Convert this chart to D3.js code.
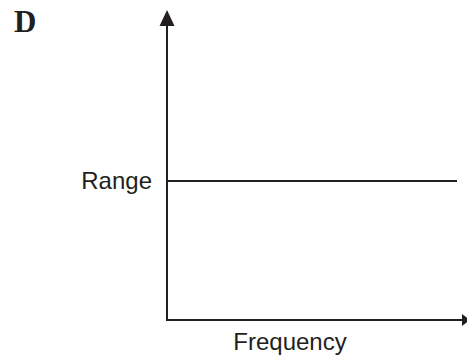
<!DOCTYPE html>
<html>
<head>
<meta charset="utf-8">
<script src="https://cdn.jsdelivr.net/npm/d3@7"></script>
<style>
  body { margin: 0; background: #fff; }
  svg { display: block; }
</style>
</head>
<body>
<div id="chart"></div>
<script>
// panel letter and axis titles
const panelLabel = "D"
const xTitle = "Frequency"
const yTitle = "Range"

// the single series: range stays constant over frequency
const frequency = [0, 1]
const rangeValues = [0.5, 0.5]

const W = 467, H = 358
const ink = "#231f20"

const svg = d3.select("#chart").append("svg")
  .attr("width", W).attr("height", H)

// origin at (167,320); line ends at x 457
const x = d3.scaleLinear().domain([0, 1]).range([167, 457])
const y = d3.scaleLinear().domain([0, 1]).range([320, 42])

// axes drawn as plain lines with arrow heads
svg.append("line")
  .attr("x1", x(0)).attr("x2", x(0))
  .attr("y1", y(0) + 1).attr("y2", 24)
  .attr("stroke", ink).attr("stroke-width", 2)

svg.append("line")
  .attr("x1", x(0) - 1).attr("x2", 463)
  .attr("y1", y(0)).attr("y2", y(0))
  .attr("stroke", ink).attr("stroke-width", 2)

// y arrow head
svg.append("path")
  .attr("d", `M${x(0)},10 L${x(0) - 7.5},26 L${x(0) + 7.5},26 Z`)
  .attr("fill", ink)

// x arrow head (runs off the right edge)
svg.append("path")
  .attr("d", `M470,${y(0)} L462,${y(0) - 6} L462,${y(0) + 6} Z`)
  .attr("fill", ink)

// the data line
const line = d3.line()
  .x((d, i) => x(frequency[i]))
  .y(d => y(d))

svg.append("path")
  .datum(rangeValues)
  .attr("d", line)
  .attr("fill", "none")
  .attr("stroke", ink)
  .attr("stroke-width", 2)

// labels
svg.append("text")
  .attr("x", 14).attr("y", 32)
  .style("font-family", "'Liberation Serif', 'Times New Roman', serif")
  .style("font-weight", "bold")
  .style("font-size", "31px")
  .attr("fill", ink)
  .text(panelLabel)

svg.append("text")
  .attr("x", 152).attr("y", y(0.5))
  .attr("dy", "0.35em")
  .attr("text-anchor", "end")
  .style("font-family", "'Liberation Sans', Arial, sans-serif")
  .style("font-size", "24px")
  .attr("fill", ink)
  .text(yTitle)

svg.append("text")
  .attr("x", 290).attr("y", 350)
  .attr("text-anchor", "middle")
  .style("font-family", "'Liberation Sans', Arial, sans-serif")
  .style("font-size", "24px")
  .attr("fill", ink)
  .text(xTitle)
</script>
</body>
</html>
